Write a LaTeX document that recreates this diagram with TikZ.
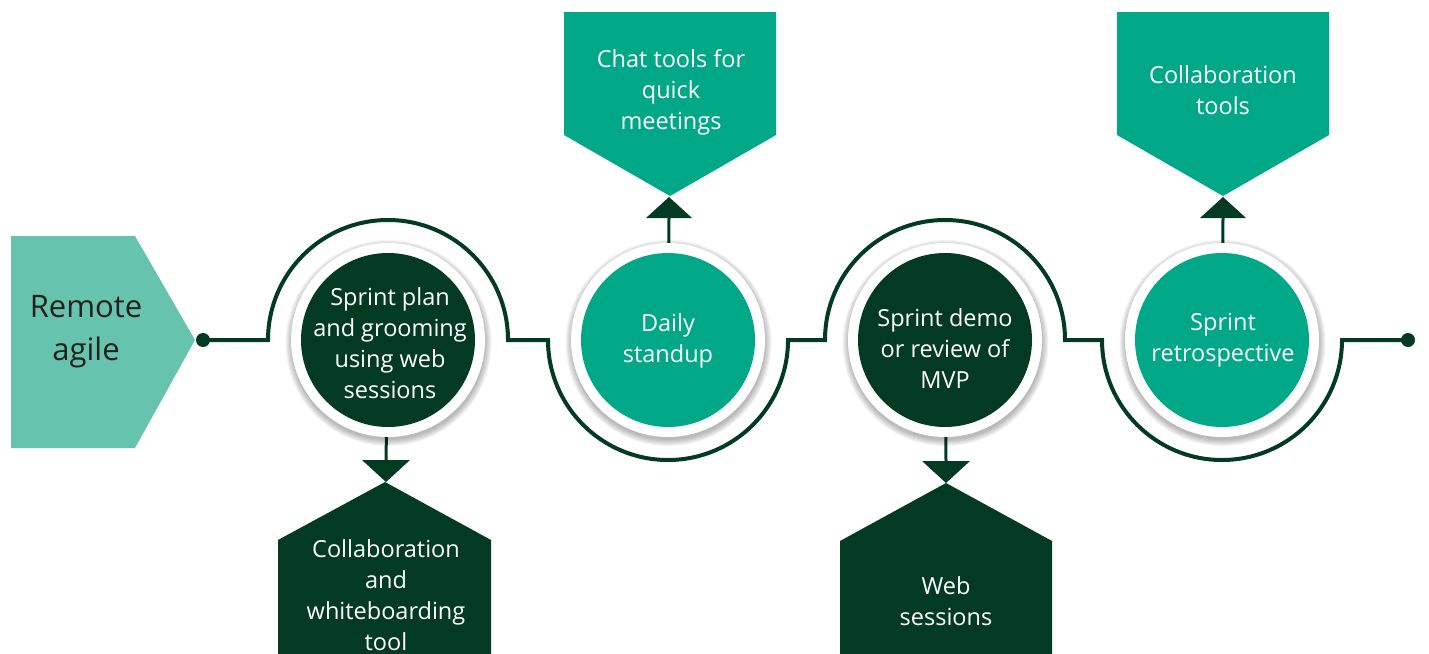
\documentclass[tikz,border=0pt]{standalone}
\usepackage{fontspec}
\setmainfont{Open Sans}
\usetikzlibrary{calc}
\definecolor{dk}{HTML}{023A24}
\definecolor{tl}{HTML}{00A887}
\definecolor{lt}{HTML}{66C3AE}
\definecolor{txt}{HTML}{231F20}
\pgfdeclarelayer{bg}
\pgfsetlayers{bg,main}
\tikzset{
  stepdisk/.style={circle, inner sep=0pt, minimum size=174pt},
  darkdisk/.style={stepdisk, fill=dk},
  tealdisk/.style={stepdisk, fill=tl},
  boxtext/.style={text=white, align=center, font=\fontsize{23.5}{31}\selectfont},
  mainline/.style={draw=dk, line width=4pt},
  armline/.style={draw=dk, line width=3pt},
  enddot/.style={circle, fill=dk, minimum size=14pt, inner sep=0pt},
}
\newcommand{\ringshadow}[1]{%
  \foreach \k in {0,...,5}{\fill[black, opacity=0.05] ($(#1,343)+(0.5,0)$) circle ({97pt+\k*1.2pt});}%
  \fill[white] (#1,340) circle (97pt);}
\begin{document}
\begin{tikzpicture}[x=1pt,y=-1pt]
\useasboundingbox (0,0) rectangle (1429,653);
% left shape
\fill[lt] (11,236) -- (135,236) -- (195,340) -- (135,448) -- (11,448) -- cycle;
\node[text=txt, align=center, font=\fontsize{31}{43}\selectfont] (ra) at (86,332) {Remote\\agile};
% end dots
\node[enddot] (d1) at (203,340) {};
\node[enddot] (d2) at (1408,340) {};
% rings
\ringshadow{388}
\ringshadow{668}
\ringshadow{945}
\ringshadow{1222}
% disks
\node[darkdisk] (c1) at (388,340) {};
\node[tealdisk] (c2) at (668,340) {};
\node[darkdisk] (c3) at (945,340) {};
\node[tealdisk] (c4) at (1222,340) {};
\node[boxtext] (c1t) at (390,343) {Sprint plan\\and grooming\\using web\\sessions};
\node[boxtext] (c2t) at (668,341) {Daily\\standup};
\node[boxtext] (c3t) at (945,349) {Sprint demo\\or review of\\MVP};
\node[boxtext] (c4t) at (1223,340) {Sprint\\retrospective};
% boxes
\fill[tl] (564,12) -- (776,12) -- (776,135) -- (670,196) -- (564,135) -- cycle;
\node[boxtext] (b2) at (671,92) {Chat tools for\\quick\\meetings};
\fill[tl] (1117,12) -- (1329,12) -- (1329,135) -- (1223,196) -- (1117,135) -- cycle;
\node[boxtext] (b4) at (1223,90) {Collaboration\\tools};
\fill[dk] (385,482) -- (491,540) -- (491,660) -- (278,660) -- (278,540) -- cycle;
\node[boxtext] (b1) at (386,595) {Collaboration\\and\\whiteboarding\\tool};
\fill[dk] (946,483) -- (1052,541) -- (1052,660) -- (840,660) -- (840,541) -- cycle;
\node[boxtext] (b3) at (946,601) {Web\\sessions};
% triangles
\coordinate (t2) at (669,218);
\coordinate (t4) at (1223,218);
\coordinate (t1) at (386,460);
\coordinate (t3) at (946,461);
\fill[dk] (646,218) -- (692,218) -- (669,197) -- cycle;
\fill[dk] (1200,218) -- (1246,218) -- (1223,197) -- cycle;
\fill[dk] (362,460) -- (410,460) -- (386,482) -- cycle;
\fill[dk] (922,461) -- (970,461) -- (946,483) -- cycle;
\begin{pgfonlayer}{bg}
\draw[mainline] (d1.center) -- (268,340) arc[start angle=180, end angle=0, radius=120pt]
  -- (548,340) arc[start angle=180, end angle=360, radius=120pt]
  -- (825,340) arc[start angle=180, end angle=0, radius=120pt]
  -- (1102,340) arc[start angle=180, end angle=360, radius=120pt]
  -- (d2.center);
\draw[armline] (c2.center) -- (t2);
\draw[armline] (c4.center) -- (t4);
\draw[armline] (c1.center) -- (t1);
\draw[armline] (c3.center) -- (t3);
\end{pgfonlayer}
\end{tikzpicture}
\end{document}
